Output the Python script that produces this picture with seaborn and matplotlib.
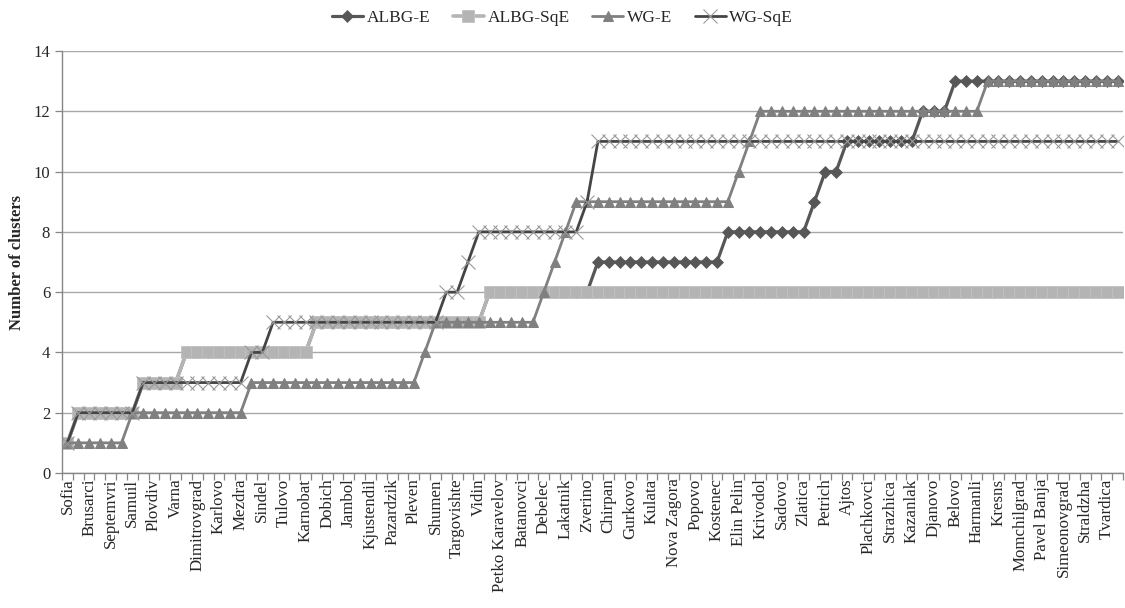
import numpy as np
import pandas as pd
import matplotlib
matplotlib.use("Agg")
import matplotlib.pyplot as plt
import seaborn as sns
from matplotlib.ticker import FixedLocator

# ---------------- data ----------------
tick_labels = ["Sofia", "Brusarci", "Septemvri", "Samuil", "Plovdiv", "Varna",
               "Dimitrovgrad", "Karlovo", "Mezdra", "Sindel", "Tulovo", "Karnobat",
               "Dobich", "Jambol", "Kjustendil", "Pazardzik", "Pleven", "Shumen",
               "Targovishte", "Vidin", "Petko Karavelov", "Batanovci", "Debelec",
               "Lakatnik", "Zverino", "Chirpan", "Gurkovo", "Kulata", "Nova Zagora",
               "Popovo", "Kostenec", "Elin Pelin", "Krivodol", "Sadovo", "Zlatica",
               "Petrich", "Ajtos", "Plachkovci", "Strazhica", "Kazanlak", "Djanovo",
               "Belovo", "Harmanli", "Kresns", "Momchilgrad", "Pavel Banja",
               "Simeonovgrad", "Straldzha", "Tvardica"]

albg_e = [1, 2, 2, 2, 2, 2, 2, 3, 3, 3,
          3, 4, 4, 4, 4, 4, 4, 4, 4, 4,
          4, 4, 4, 5, 5, 5, 5, 5, 5, 5,
          5, 5, 5, 5, 5, 5, 5, 5, 5, 6,
          6, 6, 6, 6, 6, 6, 6, 6, 6, 7,
          7, 7, 7, 7, 7, 7, 7, 7, 7, 7,
          7, 8, 8, 8, 8, 8, 8, 8, 8, 9,
          10, 10, 11, 11, 11, 11, 11, 11, 11, 12,
          12, 12, 13, 13, 13, 13, 13, 13, 13, 13,
          13, 13, 13, 13, 13, 13, 13, 13]

albg_sqe = [1, 2, 2, 2, 2, 2, 2, 3, 3, 3,
            3, 4, 4, 4, 4, 4, 4, 4, 4, 4,
            4, 4, 4, 5, 5, 5, 5, 5, 5, 5,
            5, 5, 5, 5, 5, 5, 5, 5, 5, 6,
            6, 6, 6, 6, 6, 6, 6, 6, 6, 6,
            6, 6, 6, 6, 6, 6, 6, 6, 6, 6,
            6, 6, 6, 6, 6, 6, 6, 6, 6, 6,
            6, 6, 6, 6, 6, 6, 6, 6, 6, 6,
            6, 6, 6, 6, 6, 6, 6, 6, 6, 6,
            6, 6, 6, 6, 6, 6, 6, 6]

wg_e = [1, 1, 1, 1, 1, 1, 2, 2, 2, 2,
        2, 2, 2, 2, 2, 2, 2, 3, 3, 3,
        3, 3, 3, 3, 3, 3, 3, 3, 3, 3,
        3, 3, 3, 4, 5, 5, 5, 5, 5, 5,
        5, 5, 5, 5, 6, 7, 8, 9, 9, 9,
        9, 9, 9, 9, 9, 9, 9, 9, 9, 9,
        9, 9, 10, 11, 12, 12, 12, 12, 12, 12,
        12, 12, 12, 12, 12, 12, 12, 12, 12, 12,
        12, 12, 12, 12, 12, 13, 13, 13, 13, 13,
        13, 13, 13, 13, 13, 13, 13, 13]

wg_sqe = [1, 2, 2, 2, 2, 2, 2, 3, 3, 3,
          3, 3, 3, 3, 3, 3, 3, 4, 4, 5,
          5, 5, 5, 5, 5, 5, 5, 5, 5, 5,
          5, 5, 5, 5, 5, 6, 6, 7, 8, 8,
          8, 8, 8, 8, 8, 8, 8, 8, 9, 11,
          11, 11, 11, 11, 11, 11, 11, 11, 11, 11,
          11, 11, 11, 11, 11, 11, 11, 11, 11, 11,
          11, 11, 11, 11, 11, 11, 11, 11, 11, 11,
          11, 11, 11, 11, 11, 11, 11, 11, 11, 11,
          11, 11, 11, 11, 11, 11, 11, 11]

series_names = ["ALBG-E", "ALBG-SqE", "WG-E", "WG-SqE"]

# ---------------- styling ----------------
sns.set_style("white")
plt.rcParams["font.family"] = ["Liberation Serif", "DejaVu Serif"]

n = len(albg_e)
df = pd.DataFrame({"pos": np.arange(n), "ALBG-E": albg_e, "ALBG-SqE": albg_sqe,
                   "WG-E": wg_e, "WG-SqE": wg_sqe})

W, H = 1125, 608
fig = plt.figure(figsize=(W / 100, H / 100), dpi=100)
ax = fig.add_axes([62 / W, 1 - 473 / H, (1123 - 62) / W, (473 - 51) / H])

styles = {
    "ALBG-E": dict(color="#575757", marker="D", markersize=6.2, linewidth=2.3,
                   markerfacecolor="#575757", markeredgecolor="#575757",
                   markeredgewidth=0.5),
    "ALBG-SqE": dict(color="#b4b4b4", marker="s", markersize=9.2, linewidth=2.6,
                     markerfacecolor="#b4b4b4", markeredgecolor="#c2c2c2",
                     markeredgewidth=0.6),
    "WG-E": dict(color="#808080", marker="^", markersize=7.8, linewidth=2.0,
                 markerfacecolor="#808080", markeredgecolor="#808080"),
    "WG-SqE": dict(color="#454545", marker="x", markersize=9.5, linewidth=2.0,
                   markeredgecolor="#9a9a9a", markeredgewidth=0.8),
}

for name in series_names:
    sns.lineplot(data=df, x="pos", y=name, ax=ax, label=name, legend=False,
                 **styles[name])

ax.set_xlim(-0.5, n - 0.5)
ax.set_ylim(0, 14)
ax.set_yticks(np.arange(0, 15, 2))
ax.yaxis.grid(True, color="#a8a8a8", linewidth=1.0)
ax.xaxis.grid(False)
ax.set_axisbelow(True)

major_pos = np.arange(0, n, 2)[:len(tick_labels)]
ax.set_xticks(major_pos)
ax.set_xticklabels(tick_labels, rotation=90, fontsize=12.2)
ax.xaxis.set_minor_locator(FixedLocator(np.arange(-0.5, n, 1.0)))
ax.tick_params(axis="x", which="major", length=0, pad=4)
ax.tick_params(axis="x", which="minor", length=5, color="#868686", width=0.9,
               direction="out", bottom=True)
ax.tick_params(axis="y", which="major", length=5, color="#868686", width=0.9,
               direction="out", labelsize=12, left=True)

for s in ["top", "right"]:
    ax.spines[s].set_visible(False)
for s in ["left", "bottom"]:
    ax.spines[s].set_color("#868686")
    ax.spines[s].set_linewidth(1.0)

ax.set_xlabel("")
ax.set_ylabel("Number of clusters", fontsize=12, fontweight="bold", labelpad=6)

handles, labels = ax.get_legend_handles_labels()
fig.legend(handles, labels, loc="center", bbox_to_anchor=(0.5, 1 - 18 / H),
           ncol=4, frameon=False, fontsize=12.5, handlelength=1.8,
           handletextpad=0.2, columnspacing=1.3, numpoints=1)

fig.savefig("out.png", dpi=100)
